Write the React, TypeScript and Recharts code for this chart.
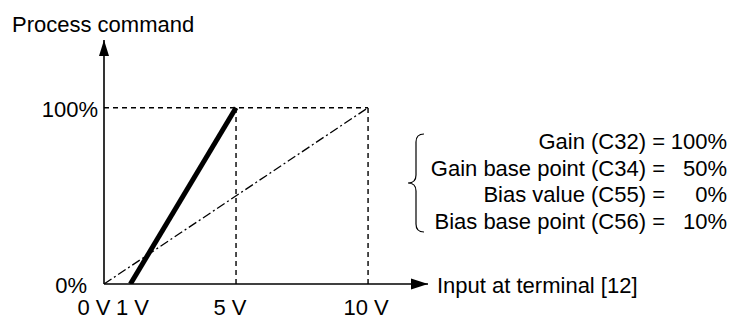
import React from "react";
import {
    LineChart,
    Line,
    XAxis,
    YAxis,
    ReferenceLine,
    ReferenceDot,
} from "recharts";

// axis ticks
const voltTicks = [0, 1, 5, 10];
const voltLabels = ["0 V", "1 V", "5 V", "10 V"];
const percentTicks = [0, 100];
const percentLabels = ["0%", "100%"];

// process command line (thick) and reference line (dash-dot)
const commandVolts = [1, 5];
const commandPercent = [0, 100];
const referenceVolts = [0, 10];
const referencePercent = [0, 100];

// guide lines (dashed)
const gainPointVolts = 5;
const fullScaleVolts = 10;
const fullScalePercent = 100;

// parameter table
const paramNames = [
    "Gain (C32) =",
    "Gain base point (C34) =",
    "Bias value (C55) =",
    "Bias base point (C56) =",
];
const paramValues = ["100%", "50%", "0%", "10%"];

const X_MAX = 12.27;
const Y_MAX = 138.4;
const FONT = '"Liberation Sans", Arial, Helvetica, sans-serif';
const INK = "#000000";
const FS = 22;

const commandData = commandVolts.map((v, i) => ({ v, p: commandPercent[i] }));
const referenceData = referenceVolts.map((v, i) => ({ v, p: referencePercent[i] }));

function VoltTick(props: any) {
    const { x, y, payload } = props;
    const idx = voltTicks.indexOf(payload.value);
    // small nudges so "0 V" and "1 V" don't collide
    const shift = payload.value === 0 ? -10 : payload.value === 1 ? 2 : payload.value === 5 ? -6 : -2;
    return (
        <text
            x={x + shift}
            y={y}
            dy="0.71em"
            textAnchor="middle"
            fontSize={FS}
            fontFamily={FONT}
            fill={INK}
        >
            {voltLabels[idx]}
        </text>
    );
}

function PercentTick(props: any) {
    const { x, y, payload } = props;
    const idx = percentTicks.indexOf(payload.value);
    const shift = payload.value === 0 ? -11 : 0;
    return (
        <text
            x={x + shift}
            y={y + 1}
            dy="0.355em"
            textAnchor="end"
            fontSize={FS}
            fontFamily={FONT}
            fill={INK}
        >
            {percentLabels[idx]}
        </text>
    );
}

function ArrowRight(props: any) {
    const { cx, cy } = props;
    return <path d={`M${cx},${cy} L${cx - 17},${cy - 5.5} L${cx - 17},${cy + 5.5} Z`} fill={INK} />;
}

function ArrowUp(props: any) {
    const { cx, cy } = props;
    return <path d={`M${cx},${cy} L${cx - 5},${cy + 16} L${cx + 5},${cy + 16} Z`} fill={INK} />;
}

export default function App() {
    const braceX = 424;
    const braceMid = 408;
    const braceTop = 134;
    const braceBot = 232;
    const braceY = (braceTop + braceBot) / 2;
    const r = 8;
    const bx = 416;

    return (
        <div
            style={{
                position: "absolute",
                left: 0,
                top: 0,
                width: 736,
                height: 320,
                background: "#ffffff",
                fontFamily: FONT,
            }}
        >
            <LineChart
                width={736}
                height={320}
                margin={{ top: 40, right: 308, bottom: 0, left: 0 }}
            >
                <XAxis
                    type="number"
                    dataKey="v"
                    domain={[0, X_MAX]}
                    ticks={voltTicks}
                    allowDataOverflow
                    height={36}
                    tickLine={false}
                    tickSize={0}
                    tickMargin={15}
                    axisLine={{ stroke: INK, strokeWidth: 1.6 }}
                    tick={(p: any) => <VoltTick {...p} />}
                />
                <YAxis
                    type="number"
                    dataKey="p"
                    domain={[0, Y_MAX]}
                    ticks={percentTicks}
                    allowDataOverflow
                    width={104}
                    tickLine={false}
                    tickSize={0}
                    tickMargin={6}
                    axisLine={{ stroke: INK, strokeWidth: 1.6 }}
                    tick={(p: any) => <PercentTick {...p} />}
                />

                <ReferenceLine
                    segment={[
                        { x: 0, y: fullScalePercent },
                        { x: fullScaleVolts, y: fullScalePercent },
                    ]}
                    stroke={INK}
                    strokeWidth={1.4}
                    strokeDasharray="5 4"
                />
                <ReferenceLine
                    segment={[
                        { x: gainPointVolts, y: 0 },
                        { x: gainPointVolts, y: fullScalePercent },
                    ]}
                    stroke={INK}
                    strokeWidth={1.4}
                    strokeDasharray="5 4"
                />
                <ReferenceLine
                    segment={[
                        { x: fullScaleVolts, y: 0 },
                        { x: fullScaleVolts, y: fullScalePercent },
                    ]}
                    stroke={INK}
                    strokeWidth={1.4}
                    strokeDasharray="5 4"
                />

                <Line
                    data={referenceData}
                    dataKey="p"
                    type="linear"
                    stroke={INK}
                    strokeWidth={1.3}
                    strokeDasharray="9 3 2 3"
                    dot={false}
                    activeDot={false}
                    isAnimationActive={false}
                />
                <Line
                    data={commandData}
                    dataKey="p"
                    type="linear"
                    stroke={INK}
                    strokeWidth={5}
                    dot={false}
                    activeDot={false}
                    isAnimationActive={false}
                />

                <ReferenceDot x={X_MAX} y={0} r={0} shape={(p: any) => <ArrowRight {...p} />} ifOverflow="visible" />
                <ReferenceDot x={0} y={Y_MAX} r={0} shape={(p: any) => <ArrowUp {...p} />} ifOverflow="visible" />
            </LineChart>

            <svg
                width={736}
                height={320}
                style={{ position: "absolute", left: 0, top: 0, pointerEvents: "none" }}
            >
                <text x={12} y={32} fontSize={FS} fontFamily={FONT} fill={INK}>
                    Process command
                </text>
                <text x={437} y={293} fontSize={FS} fontFamily={FONT} fill={INK}>
                    Input at terminal [12]
                </text>

                <path
                    d={`M${braceX},${braceTop} Q${bx},${braceTop} ${bx},${braceTop + r} L${bx},${braceY - r} Q${bx},${braceY} ${braceMid},${braceY} Q${bx},${braceY} ${bx},${braceY + r} L${bx},${braceBot - r} Q${bx},${braceBot} ${braceX},${braceBot}`}
                    fill="none"
                    stroke={INK}
                    strokeWidth={1.2}
                />

                {paramNames.map((name, i) => (
                    <g key={name}>
                        <text
                            x={665}
                            y={149 + i * 26.7}
                            textAnchor="end"
                            fontSize={FS}
                            fontFamily={FONT}
                            fill={INK}
                        >
                            {name}
                        </text>
                        <text
                            x={727}
                            y={149 + i * 26.7}
                            textAnchor="end"
                            fontSize={FS}
                            fontFamily={FONT}
                            fill={INK}
                        >
                            {paramValues[i]}
                        </text>
                    </g>
                ))}
            </svg>
        </div>
    );
}
